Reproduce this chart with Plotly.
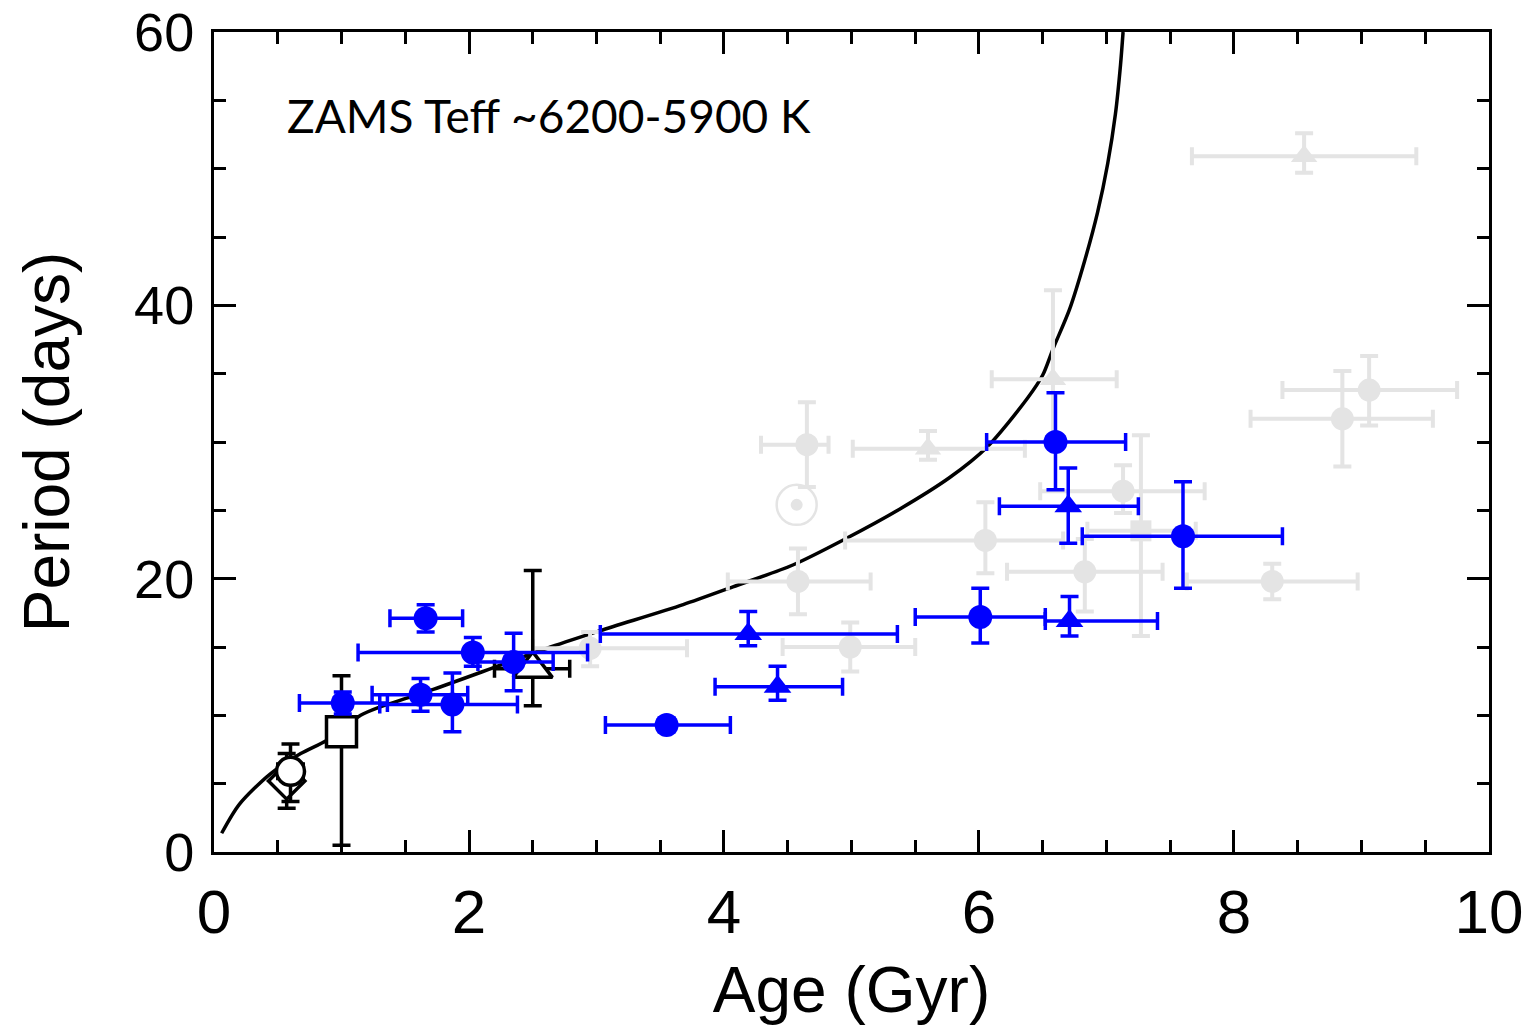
import plotly.graph_objects as go

# ---------------- data ----------------
# Model curve (age in Gyr, period in days)
curve_age = [0.06, 0.20, 0.44, 0.68, 0.89, 1.15, 1.30, 1.72, 2.24, 2.64, 3.03, 3.68, 4.07,
             4.54, 4.95, 5.38, 5.77, 6.06, 6.38, 6.50, 6.58, 6.71, 6.83, 6.93, 7.01, 7.07,
             7.11, 7.13]
curve_per = [1.37, 3.5, 5.7, 7.2, 8.2, 10.0, 10.6, 11.9, 13.65, 15.0, 16.2, 18.1, 19.4,
             21.0, 22.9, 25.1, 27.4, 29.6, 33.2, 34.9, 36.8, 39.7, 43.3, 46.8, 50.4, 54.0,
             57.6, 60.0]

# Blue filled circles
bc_age = [1.66, 2.03, 2.35, 1.01, 1.62, 1.87, 3.55, 6.60, 7.60, 6.01]
bc_age_lo = [1.38, 1.13, 2.07, 0.67, 1.24, 1.30, 3.07, 6.06, 6.81, 5.50]
bc_age_hi = [1.95, 2.93, 2.66, 1.36, 1.99, 2.38, 4.05, 7.15, 8.38, 6.52]
bc_per = [17.1, 14.6, 13.9, 10.9, 11.5, 10.8, 9.3, 30.0, 23.1, 17.2]
bc_per_lo = [16.1, 13.6, 11.8, 10.1, 10.3, 8.8, 8.8, 26.5, 19.3, 15.3]
bc_per_hi = [18.1, 15.7, 16.0, 11.7, 12.7, 13.1, 9.8, 33.6, 27.1, 19.3]

# Blue filled triangles
bt_age = [4.19, 4.42, 6.70, 6.71]
bt_age_lo = [3.03, 3.93, 6.16, 6.52]
bt_age_hi = [5.36, 4.93, 7.25, 7.40]
bt_per = [15.95, 12.1, 25.3, 16.9]
bt_per_lo = [15.1, 11.1, 22.6, 15.8]
bt_per_hi = [17.6, 13.6, 28.1, 18.7]

# Grey circles
gc_age = [4.65, 4.58, 4.99, 6.05, 7.13, 6.83, 8.30, 9.06, 8.85, 2.95]
gc_age_lo = [4.29, 4.03, 4.46, 4.95, 6.48, 6.22, 7.63, 8.38, 8.13, 2.50]
gc_age_hi = [4.82, 5.15, 5.50, 6.66, 7.77, 7.44, 8.97, 9.75, 9.56, 3.71]
gc_per = [29.8, 19.8, 15.0, 22.8, 26.4, 20.5, 19.8, 33.8, 31.7, 14.9]
gc_per_lo = [26.7, 17.4, 13.2, 20.4, 24.8, 17.6, 18.5, 31.2, 28.2, 13.6]
gc_per_hi = [32.9, 22.2, 16.8, 25.6, 28.3, 22.9, 21.1, 36.3, 35.2, 16.1]

# Grey triangles
gt_age = [5.60, 6.58, 8.55]
gt_age_lo = [5.01, 6.10, 7.67]
gt_age_hi = [6.36, 7.08, 9.43]
gt_per = [29.5, 34.6, 50.9]
gt_per_lo = [28.7, 30.0, 49.7]
gt_per_hi = [30.8, 41.1, 52.6]

# Grey square
gs_age = [7.27]
gs_age_lo = [6.85]
gs_age_hi = [7.70]
gs_per = [23.5]
gs_per_lo = [15.8]
gs_per_hi = [30.5]

# Sun
sun_age = [4.57]
sun_per = [25.4]

# Black open symbols (clusters)
kc_age, kc_age_lo, kc_age_hi = [0.60], [0.50], [0.70]
kc_per, kc_per_lo, kc_per_hi = [5.9], [3.7], [7.9]
kd_age, kd_per, kd_per_lo, kd_per_hi = [0.57], [5.2], [3.2], [7.2]
ks_age, ks_per, ks_per_lo, ks_per_hi = [1.0], [8.8], [0.5], [12.9]
kt_age, kt_age_lo, kt_age_hi = [2.50], [2.20], [2.79]
kt_per, kt_per_lo, kt_per_hi = [13.4], [10.7], [20.6]

# axis ticks
x_ticks = [0, 2, 4, 6, 8, 10]
y_ticks = [0, 20, 40, 60]

BLUE = "#0000ff"
GREY = "#e4e4e4"
BLACK = "#000000"


def err(vals, lo, hi):
    return ([h - v for v, h in zip(vals, hi)], [v - l for v, l in zip(vals, lo)])


def add_points(fig, x, y, xlo, xhi, ylo, yhi, color, symbol, size, fill=None, lw=0, thick=3.5, cap=9):
    kw = {}
    if xlo is not None:
        ep, em = err(x, xlo, xhi)
        kw["error_x"] = dict(type="data", symmetric=False, array=ep, arrayminus=em,
                             color=color, thickness=thick, width=cap)
    if ylo is not None:
        ep, em = err(y, ylo, yhi)
        kw["error_y"] = dict(type="data", symmetric=False, array=ep, arrayminus=em,
                             color=color, thickness=thick, width=cap)
    fig.add_trace(go.Scatter(
        x=x, y=y, mode="markers",
        marker=dict(symbol=symbol, size=size, color=fill if fill else color,
                    line=dict(color=color, width=lw)),
        showlegend=False, hoverinfo="skip", **kw))


fig = go.Figure()

# model curve
fig.add_trace(go.Scatter(x=curve_age, y=curve_per, mode="lines",
                         line=dict(color=BLACK, width=3.5, shape="spline", smoothing=0.8),
                         showlegend=False, hoverinfo="skip"))

# grey sample
add_points(fig, gc_age, gc_per, gc_age_lo, gc_age_hi, gc_per_lo, gc_per_hi, GREY, "circle", 23, thick=4)
add_points(fig, gt_age, gt_per, gt_age_lo, gt_age_hi, gt_per_lo, gt_per_hi, GREY, "triangle-up", 23, thick=4)
add_points(fig, gs_age, gs_per, gs_age_lo, gs_age_hi, gs_per_lo, gs_per_hi, GREY, "square", 21, thick=4)
fig.add_trace(go.Scatter(x=sun_age, y=sun_per, mode="markers",
                         marker=dict(symbol="circle-open", size=40, color=GREY, line=dict(color=GREY, width=2.5)),
                         showlegend=False, hoverinfo="skip"))
fig.add_trace(go.Scatter(x=sun_age, y=sun_per, mode="markers",
                         marker=dict(symbol="circle", size=12, color=GREY),
                         showlegend=False, hoverinfo="skip"))

# black open cluster symbols
add_points(fig, kd_age, kd_per, None, None, kd_per_lo, kd_per_hi, BLACK, "diamond", 28, fill="white", lw=3.5)
add_points(fig, kc_age, kc_per, kc_age_lo, kc_age_hi, kc_per_lo, kc_per_hi, BLACK, "circle", 28, fill="white", lw=3.5)
add_points(fig, ks_age, ks_per, None, None, ks_per_lo, ks_per_hi, BLACK, "square", 30, fill="white", lw=3.5)
add_points(fig, kt_age, kt_per, kt_age_lo, kt_age_hi, kt_per_lo, kt_per_hi, BLACK, "triangle-up", 34, fill="white", lw=3.5)

# blue sample
add_points(fig, bc_age, bc_per, bc_age_lo, bc_age_hi, bc_per_lo, bc_per_hi, BLUE, "circle", 24)
add_points(fig, bt_age, bt_per, bt_age_lo, bt_age_hi, bt_per_lo, bt_per_hi, BLUE, "triangle-up", 24)

fig.add_annotation(x=0.56, y=53.9, xref="x", yref="y", text="ZAMS Teff ~6200-5900 K",
                   showarrow=False, xanchor="left", yanchor="middle",
                   font=dict(family="Lato, Noto Sans, sans-serif", size=46, color="black"))

axis_common = dict(showline=True, linecolor="black", linewidth=3, mirror="allticks",
                   ticks="inside", tickwidth=3, tickcolor="black", showgrid=False, zeroline=False,
                   automargin=False, tickmode="array", ticklabeloverflow="allow")

fig.update_xaxes(range=[0, 10.0001], tickvals=x_ticks, ticktext=[str(v) for v in x_ticks], ticklen=22,
                 minor=dict(dtick=0.5, tick0=0, ticklen=12, tickwidth=3, ticks="inside", tickcolor="black"),
                 tickfont=dict(family="Liberation Sans, Arial, sans-serif", size=62, color="black"),
                 title=dict(text="Age (Gyr)", standoff=26,
                            font=dict(family="Liberation Sans, Arial, sans-serif", size=64, color="black")),
                 ticklabelstandoff=4, **axis_common)
fig.update_yaxes(range=[0, 60.0001], tickvals=y_ticks, ticktext=[str(v) for v in y_ticks], ticklen=22,
                 minor=dict(dtick=5, tick0=0, ticklen=12, tickwidth=3, ticks="inside", tickcolor="black"),
                 tickfont=dict(family="Liberation Sans, Arial, sans-serif", size=54, color="black"),
                 title=dict(text="Period (days)", standoff=44,
                            font=dict(family="Liberation Sans, Arial, sans-serif", size=64, color="black")),
                 ticklabelstandoff=6, **axis_common)

fig.update_layout(width=1540, height=1026, paper_bgcolor="white", plot_bgcolor="white",
                  margin=dict(l=214, r=51, t=32, b=174), showlegend=False)

fig.write_html("out.html")
